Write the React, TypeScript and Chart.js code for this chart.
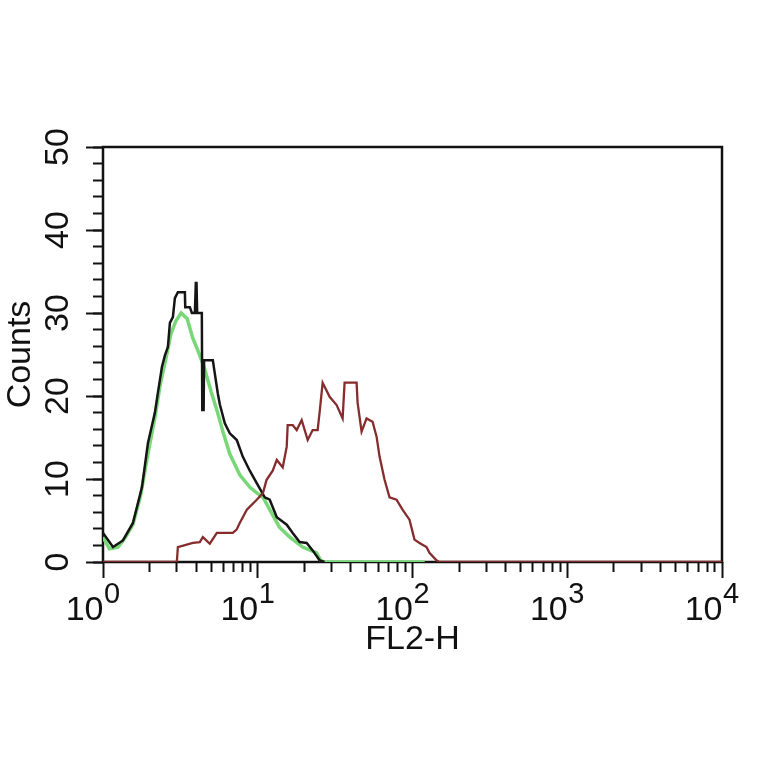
import React, { useEffect, useRef } from 'react';
import { Chart, registerables } from 'chart.js';

Chart.register(...registerables);

const FONT = "'Liberation Sans', Arial, Helvetica, sans-serif";

// Axis ticks
const yMajorTicks = [0, 10, 20, 30, 40, 50];
const yMinorTicks = [0, 2, 4, 6, 8, 10, 12, 14, 16, 18, 20, 22, 24, 26, 28, 30, 32, 34, 36, 38, 40, 42, 44, 46, 48, 50];
const xMajorTicks = [1, 10, 100, 1000, 10000];
const xMinorTicks = [
  2, 3, 4, 5, 6, 7, 8, 9,
  20, 30, 40, 50, 60, 70, 80, 90,
  200, 300, 400, 500, 600, 700, 800, 900,
  2000, 3000, 4000, 5000, 6000, 7000, 8000, 9000,
];
const xTickBase = '10';
const xTickExponents = ['0', '1', '2', '3', '4'];
const xTitle = 'FL2-H';
const yTitle = 'Counts';

// Control (black) histogram
const blackX = [
  1.0, 1.16, 1.346, 1.561, 1.785, 1.951, 2.165, 2.264, 2.403, 2.512, 2.627, 2.706, 2.829, 2.914,
  3.047, 3.381, 3.4, 3.641, 3.752, 3.923, 3.98, 4.02, 4.06, 4.102, 4.352, 4.38, 4.47, 4.5, 4.758,
  5.126, 5.28, 5.52, 5.686, 6.126, 6.597, 7.32, 8.0, 8.88, 9.85, 11.1, 11.95, 13.27, 15.39, 16.82,
  18.66, 20.71, 22.64, 25.12, 27,
];
const blackCounts = [
  3.5, 1.8, 2.6, 4.7, 9, 14.3, 18.0, 20.4, 23.5, 24.9, 25.9, 28.8, 29.5, 31.8,
  32.5, 32.5, 30.7, 30.7, 30.0, 30.0, 33.6, 33.6, 30.0, 30.0, 30.0, 18.3, 18.3, 24.3, 24.3,
  24.3, 22.7, 20.3, 19.0, 16.7, 15.5, 14.7, 12.7, 11.0, 9.5, 7.8, 7.5, 5.4, 4.5, 3.5,
  2.4, 2.3, 1.4, 0.2, 0,
];

// Isotype (green) histogram
const greenX = [
  1.0, 1.1, 1.25, 1.4, 1.56, 1.75, 1.95, 2.17, 2.35, 2.55, 2.75, 2.95, 3.2, 3.5, 3.8, 4.1, 4.5,
  5.0, 5.5, 6.0, 6.6, 7.65, 8.9, 9.9, 10.8, 11.95, 13.8, 16.1, 19.5, 24, 25.5, 27, 120,
];
const greenCounts = [
  3.0, 1.6, 1.8, 3.0, 4.5, 8.0, 13.0, 17.5, 21.5, 24.5, 27.5, 29.0, 30.0, 29.3, 27.0, 25.5, 23.5,
  20.5, 18.0, 15.5, 13.0, 10.5, 9.0, 8.3, 7.8, 6.3, 4.2, 3.0, 1.8, 1.1, 0.2, 0, 0,
];

// Stained sample (red) histogram
const redX = [
  1, 3.0, 3.047, 3.81, 4.22, 4.42, 4.9, 5.44, 6.9, 7.3, 7.65, 8.5, 9.85, 10.8, 11.4, 12.5, 13.27,
  14.5, 15.39, 15.61, 16.82, 17.85, 19.23, 21.02, 22.64, 24.38, 25.12, 26.27, 29.14, 32.34, 35.35,
  36.41, 43.52, 44.18, 46.88, 50.49, 55.2, 58.6, 61.25, 65.99, 71.06, 78.84, 86.2, 95.6, 103.0,
  111.0, 123.1, 128.7, 142.8, 149.3, 10000,
];
const redCounts = [
  0, 0, 1.8, 2.3, 2.4, 3.0, 2.2, 3.5, 3.5, 3.9, 4.7, 6.3, 7.5, 8.3, 9.9, 11.0, 12.3,
  11.4, 13.9, 16.5, 16.5, 15.9, 17.1, 14.7, 15.9, 15.9, 18.1, 21.6, 19.9, 18.9, 17.3,
  21.6, 21.6, 19.2, 15.7, 17.3, 16.9, 15.1, 12.7, 9.9, 7.8, 7.5, 6.3, 5.1, 2.7,
  2.3, 1.8, 1.1, 0.2, 0, 0,
];

const toPoints = (xs: number[], ys: number[]) => xs.map((x, i) => ({ x, y: ys[i] }));

export default function App() {
  const canvasRef = useRef<HTMLCanvasElement>(null);

  useEffect(() => {
    const canvas = canvasRef.current;
    if (!canvas) return;

    const framePlugin = {
      id: 'frame',
      beforeDatasetsDraw(chart: any) {
        const { ctx, chartArea: a } = chart;
        ctx.save();
        ctx.strokeStyle = '#111';
        ctx.lineWidth = 2.5;
        ctx.strokeRect(a.left, a.top, a.right - a.left, a.bottom - a.top);
        ctx.restore();
      },
    };

    const xLabelPlugin = {
      id: 'xPowerLabels',
      afterDraw(chart: any) {
        const scale = chart.scales.x;
        const ctx = chart.ctx;
        ctx.save();
        ctx.fillStyle = '#111';
        ctx.textBaseline = 'alphabetic';
        xMajorTicks.forEach((v, i) => {
          const px = scale.getPixelForValue(v);
          ctx.font = `34px ${FONT}`;
          ctx.textAlign = 'right';
          ctx.fillText(xTickBase, px + 0.5, scale.top + 58);
          ctx.font = `29px ${FONT}`;
          ctx.textAlign = 'left';
          ctx.fillText(xTickExponents[i], px + 1, scale.top + 41);
        });
        ctx.restore();
      },
    };

    const common = { pointRadius: 0, tension: 0, fill: false };

    const chart = new Chart(canvas, {
      type: 'line',
      data: {
        datasets: [
          { label: 'Sample', data: toPoints(redX, redCounts), borderColor: '#862c2c', borderWidth: 2.3, ...common },
          { label: 'Control', data: toPoints(blackX, blackCounts), borderColor: '#151515', borderWidth: 2.5, ...common },
          { label: 'Isotype', data: toPoints(greenX, greenCounts), borderColor: '#78d878', borderWidth: 3.5, ...common },
        ],
      },
      options: {
        responsive: false,
        animation: false,
        events: [],
        layout: { padding: { left: 0, right: 42, top: 147, bottom: 104 } },
        plugins: { legend: { display: false }, tooltip: { enabled: false } },
        scales: {
          x: {
            type: 'logarithmic',
            position: 'bottom',
            weight: 1,
            min: 1,
            max: 10000,
            afterBuildTicks: (s: any) => { s.ticks = xMajorTicks.map((v) => ({ value: v })); },
            afterFit: (s: any) => { s.height = 98; },
            ticks: { display: false },
            grid: { drawOnChartArea: false, drawTicks: true, tickLength: 16, tickWidth: 2, tickColor: '#111' },
            border: { display: false },
            title: { display: true, text: xTitle, color: '#111', padding: 0, font: { family: FONT, size: 34, lineHeight: 1.2 } },
          },
          xMinor: {
            type: 'logarithmic',
            position: 'bottom',
            weight: 0,
            min: 1,
            max: 10000,
            afterBuildTicks: (s: any) => { s.ticks = xMinorTicks.map((v) => ({ value: v })); },
            afterFit: (s: any) => { s.height = 0; },
            ticks: { display: false },
            grid: { drawOnChartArea: false, drawTicks: true, tickLength: 10, tickWidth: 2, tickColor: '#111' },
            border: { display: false },
          },
          y: {
            type: 'linear',
            position: 'left',
            weight: 1,
            min: 0,
            max: 50,
            afterBuildTicks: (s: any) => { s.ticks = yMajorTicks.map((v) => ({ value: v })); },
            afterFit: (s: any) => { s.width = 103; },
            ticks: {
              minRotation: 90,
              maxRotation: 90,
              crossAlign: 'center',
              padding: 8,
              autoSkip: false,
              color: '#111',
              font: { family: FONT, size: 34 },
            },
            grid: { drawOnChartArea: false, drawTicks: true, tickLength: 17, tickWidth: 2, tickColor: '#111' },
            border: { display: false },
            title: { display: true, text: yTitle, color: '#111', padding: 0, font: { family: FONT, size: 34, lineHeight: 1.2 } },
          },
          yMinor: {
            type: 'linear',
            position: 'left',
            weight: 0,
            min: 0,
            max: 50,
            afterBuildTicks: (s: any) => { s.ticks = yMinorTicks.map((v) => ({ value: v })); },
            afterFit: (s: any) => { s.width = 0; },
            ticks: { display: false },
            grid: { drawOnChartArea: false, drawTicks: true, tickLength: 10, tickWidth: 2, tickColor: '#111' },
            border: { display: false },
          },
        },
      } as any,
      plugins: [framePlugin, xLabelPlugin],
    });

    return () => chart.destroy();
  }, []);

  return (
    <div style={{ position: 'fixed', left: 0, top: 0, width: 764, height: 764, background: '#fff' }}>
      <canvas ref={canvasRef} width={764} height={764} style={{ display: 'block' }} />
    </div>
  );
}
